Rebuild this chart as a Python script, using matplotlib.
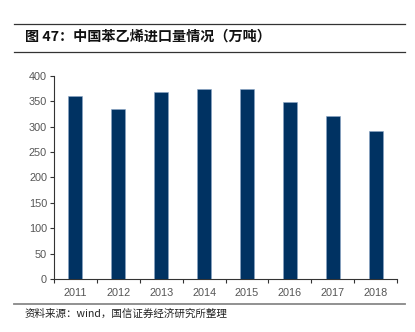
import matplotlib
matplotlib.use("Agg")
import matplotlib.pyplot as plt
from matplotlib.lines import Line2D

years = ["2011", "2012", "2013", "2014", "2015", "2016", "2017", "2018"]
imports = [360, 334, 367, 373, 374, 349, 321, 291]
yticks = [0, 50, 100, 150, 200, 250, 300, 350, 400]

title = "图 47：中国苯乙烯进口量情况（万吨）"
source = "资料来源：wind，国信证券经济研究所整理"

plt.rcParams['font.family'] = ['Liberation Sans', 'Noto Sans CJK SC', 'DejaVu Sans']

fig = plt.figure(figsize=(4.15, 3.32), dpi=100)
ax = fig.add_axes([0.130, 0.159, 0.827, 0.613])

x = list(range(len(years)))
ax.bar(x, imports, width=0.33, color="#003262", edgecolor="#8aa6c6", linewidth=0.4, zorder=3)

ax.set_xlim(-0.5, len(years) - 0.5)
ax.set_ylim(0, 400)
ax.set_yticks(yticks)
ax.set_yticklabels([str(v) for v in yticks])
ax.set_xticks(x)
ax.set_xticklabels(years)
ax.set_xticks([i - 0.5 for i in range(len(years) + 1)], minor=True)
ax.tick_params(axis='x', which='major', length=0, pad=6, labelsize=7.8, labelcolor="#555555")
ax.tick_params(axis='x', which='minor', length=3, width=0.8, color="#333333", direction='out')
ax.tick_params(axis='y', length=3, width=0.8, color="#333333", labelsize=7.8, labelcolor="#555555", pad=2)

for s in ['top', 'right']:
    ax.spines[s].set_visible(False)
for s in ['left', 'bottom']:
    ax.spines[s].set_color("#333333")
    ax.spines[s].set_linewidth(0.8)

fig.add_artist(Line2D([14/415, 405/415], [1-24/332, 1-24/332], color="#333333", lw=0.9))
fig.add_artist(Line2D([14/415, 405/415], [1-52/332, 1-52/332], color="#333333", lw=0.9))
fig.add_artist(Line2D([14/415, 405/415], [1-304/332, 1-304/332], color="#888888", lw=1.3))

fig.text(25/415, 1-37/332, title, fontsize=10.2, fontweight='bold', va='center', ha='left',
         family=['Noto Sans CJK SC', 'DejaVu Sans'], color="#111111")
fig.text(25/415, 1-314/332, source, fontsize=7.6, va='center', ha='left',
         family=['Noto Sans CJK SC', 'DejaVu Sans'], color="#222222")

fig.savefig("out.png", dpi=100)
